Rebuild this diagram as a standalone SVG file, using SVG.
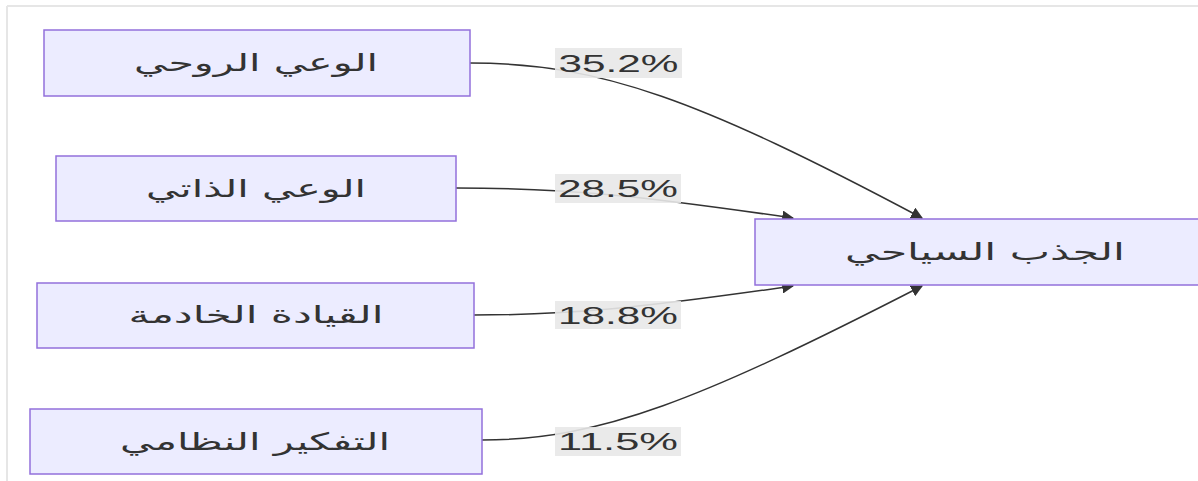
<svg xmlns="http://www.w3.org/2000/svg" width="1198" height="481" viewBox="0 0 1198 481">
<style>
.node rect{fill:#ECECFF;stroke:#9370DB;stroke-width:1.5}
.node text{font-family:"DejaVu Sans","Noto Sans",sans-serif;font-size:24px;fill:#333;text-anchor:middle}
.edge{fill:none;stroke:#333;stroke-width:1.5}
.lbl rect{fill:#e8e8e8;fill-opacity:0.9}
.lbl text{font-family:"Liberation Sans",Arial,sans-serif;font-size:24px;fill:#333;text-anchor:middle}
.frame{stroke:#e6e6e6;stroke-width:2}
</style>
<defs>
<marker id="arrow" viewBox="0 0 10 10" refX="9" refY="5" markerWidth="12" markerHeight="12" markerUnits="userSpaceOnUse" orient="auto">
<path d="M0,0 L10,5 L0,10 z" fill="#333"/>
</marker>
</defs>
<rect width="1198" height="481" fill="#fff"/>
<line class="frame" x1="7" y1="6" x2="1198" y2="6"/>
<line class="frame" x1="7" y1="6" x2="7" y2="481"/>
<g id="connectors">
<path class="edge" d="M470,63 C600,63 700,100 922,218" marker-end="url(#arrow)"/>
<path class="edge" d="M456,188 C570,188 640,196 793,218" marker-end="url(#arrow)"/>
<path class="edge" d="M474,315 C570,315 640,308 793,286" marker-end="url(#arrow)"/>
<path class="edge" d="M482,440 C600,440 700,400 922,286" marker-end="url(#arrow)"/>
</g>
<g id="labels">
<g class="lbl" id="label1"><rect x="555" y="48" width="127" height="30"/><text x="618.5" y="71.5" textLength="120" lengthAdjust="spacingAndGlyphs">35.2%</text></g>
<g class="lbl" id="label2"><rect x="555" y="174" width="126" height="29"/><text x="618" y="197" textLength="120" lengthAdjust="spacingAndGlyphs">28.5%</text></g>
<g class="lbl" id="label3"><rect x="555" y="301" width="126" height="28"/><text x="618" y="323.5" textLength="120" lengthAdjust="spacingAndGlyphs">18.8%</text></g>
<g class="lbl" id="label4"><rect x="555" y="427" width="126" height="29"/><text x="618" y="450" textLength="120" lengthAdjust="spacingAndGlyphs">11.5%</text></g>
</g>
<g class="node" id="node1"><rect x="44" y="30" width="426" height="66"/><text x="256" y="71" textLength="244" lengthAdjust="spacingAndGlyphs">الوعي الروحي</text></g>
<g class="node" id="node2"><rect x="56" y="156" width="400" height="65"/><text x="256" y="197" textLength="220" lengthAdjust="spacingAndGlyphs">الوعي الذاتي</text></g>
<g class="node" id="node3"><rect x="37" y="283" width="437" height="65"/><text x="256" y="323" textLength="255" lengthAdjust="spacingAndGlyphs">القيادة الخادمة</text></g>
<g class="node" id="node4"><rect x="30" y="409" width="452" height="65"/><text x="255" y="450" textLength="270" lengthAdjust="spacingAndGlyphs">التفكير النظامي</text></g>
<g class="node" id="node5"><rect x="755" y="219" width="460" height="66"/><text x="985" y="260" textLength="280" lengthAdjust="spacingAndGlyphs">الجذب السياحي</text></g>
</svg>
